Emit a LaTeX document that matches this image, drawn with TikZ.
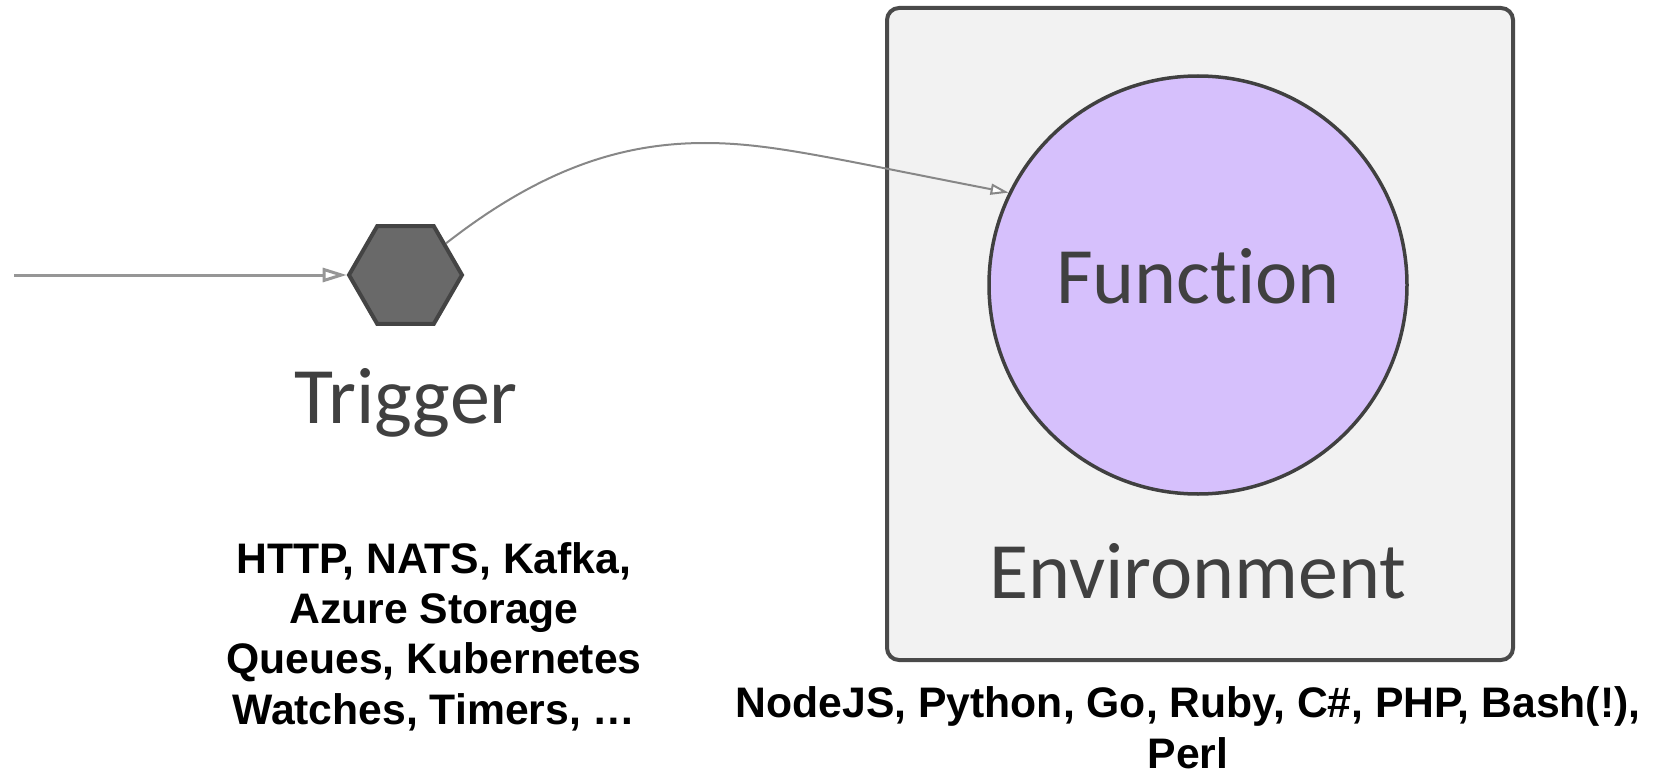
\documentclass[tikz,border=0pt]{standalone}
\usepackage{fontspec}
\setmainfont{Liberation Sans}
\newfontfamily\calib[Ligatures=NoCommon]{Carlito}
\usetikzlibrary{arrows.meta,shapes.geometric}
\definecolor{boxfill}{RGB}{242,242,242}
\definecolor{boxline}{RGB}{74,74,74}
\definecolor{fnfill}{RGB}{214,192,252}
\definecolor{hexfill}{RGB}{105,105,105}
\definecolor{hexline}{RGB}{68,68,68}
\definecolor{txtgray}{RGB}{64,64,64}
\definecolor{linegray}{RGB}{150,150,150}
\definecolor{curvegray}{RGB}{135,135,135}
\tikzset{
  envbox/.style={draw=boxline, fill=boxfill, line width=4pt, rounded corners=12pt},
  fnnode/.style={circle, draw=txtgray, fill=fnfill, line width=3.5pt, minimum size=418pt, inner sep=0pt},
  hexnode/.style={regular polygon, regular polygon sides=6, draw=hexline, fill=hexfill, line width=4pt, minimum size=113pt, inner sep=0pt},
  biglabel/.style={font=\calib\fontsize{80}{80}\selectfont, text=txtgray, inner sep=0pt, anchor=base},
  boldlabel/.style={font=\bfseries\fontsize{42.7}{50.3}\selectfont, text=black, inner sep=0pt, anchor=base, align=center},
  inarrow/.style={draw=linegray, line width=3pt, -{Triangle[length=24pt, width=14pt, fill=white]}},
  curvearrow/.style={draw=curvegray, line width=2pt, -{Triangle[length=18pt, width=11pt, fill=white]}}
}
\begin{document}
\begin{tikzpicture}[x=1pt, y=-1pt]
\useasboundingbox (0,0) rectangle (1655,773);
\draw[envbox] (887,8) rectangle (1513,660);
\node[fnnode] (fn) at (1198,285) {};
\node[biglabel] (fnlabel) at (1198,303) {Function};
\node[biglabel] (envlabel) at (1198,598) {Environment};
\node[hexnode] (hex) at (405.5,275) {};
\node[biglabel] (triglabel) at (406,423) {Trigger};
\coordinate (src) at (14,275);
\coordinate (peak) at (705,143);
\draw[inarrow] (src) -- (hex.west);
\draw[curvearrow] (hex.38) .. controls (540,170) and (620,143) .. (peak) .. controls (770,143) and (830,158) .. (fn.154);
\node[boldlabel] (trigtypes) at (434,724) {HTTP, NATS, Kafka,\\Azure Storage\\Queues, Kubernetes\\Watches, Timers, \dots};
\node[boldlabel] (langs) at (1188,768) {NodeJS, Python, Go, Ruby, C\#, PHP, Bash(!),\\Perl};
\end{tikzpicture}
\end{document}
